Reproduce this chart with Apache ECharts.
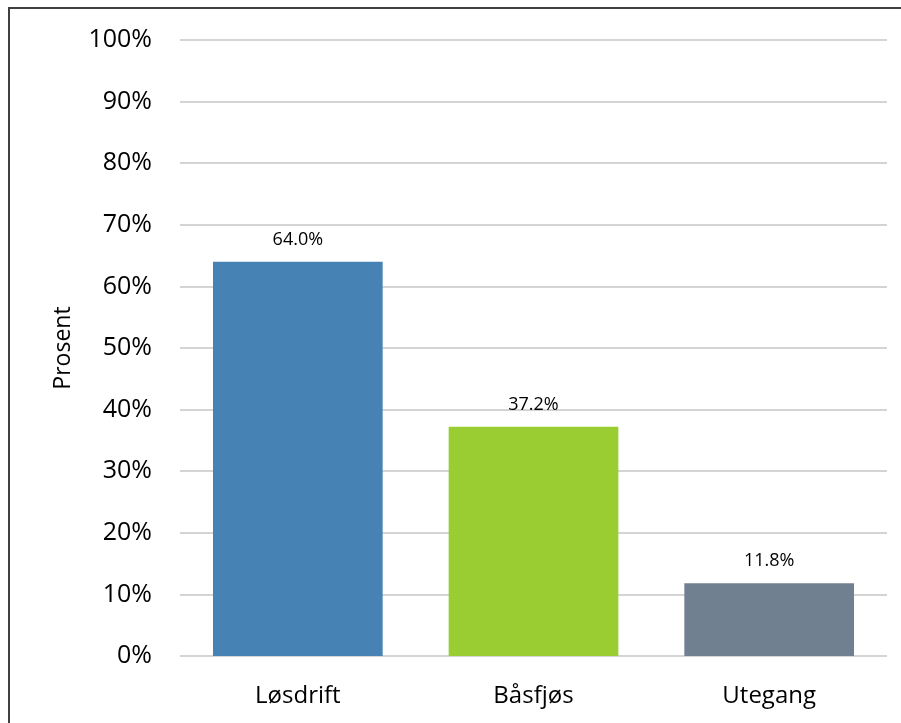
<!DOCTYPE html>
<html>
<head>
<meta charset="utf-8">
<script src="https://cdn.jsdelivr.net/npm/echarts@6/dist/echarts.min.js"></script>
<style>
  html, body { margin: 0; padding: 0; background: #fff; }
  #frame { position: absolute; left: 8px; top: 7px; width: 900px; height: 720px;
           border-top: 2px solid #404040; border-left: 2px solid #404040; }
  #chart { position: absolute; left: 0; top: 0; width: 901px; height: 723px; }
</style>
</head>
<body>
<div id="frame"></div>
<div id="chart"></div>
<script>
var categories = ['Løsdrift', 'Båsfjøs', 'Utegang'];
var values = [64.0, 37.2, 11.8];
var barColors = ['#4682B4', '#9ACD32', '#708090'];

var font = '"Open Sans", sans-serif';
var chart = echarts.init(document.getElementById('chart'));
chart.setOption({
    animation: false,
    grid: { left: 180, right: 14, top: 40, bottom: 67 },
    xAxis: {
        type: 'category',
        data: categories,
        axisLine: { show: false },
        axisTick: { show: false },
        axisLabel: { color: '#000', fontSize: 24, fontFamily: font, margin: 28 }
    },
    yAxis: {
        type: 'value',
        min: 0, max: 100, interval: 10,
        name: 'Prosent',
        nameLocation: 'middle',
        nameGap: 105,
        nameRotate: 90,
        nameTextStyle: { color: '#000', fontSize: 23, fontFamily: font },
        axisLabel: { color: '#000', fontSize: 25, fontFamily: font, margin: 28, formatter: '{value}%' },
        splitLine: { lineStyle: { color: '#d4d4d4', width: 2 } }
    },
    series: [{
        type: 'bar',
        barCategoryGap: '28%',
        data: values.map(function (v, i) {
            return { value: v, itemStyle: { color: barColors[i] } };
        }),
        label: {
            show: true,
            position: 'top',
            distance: 13,
            color: '#000',
            fontSize: 18,
            fontFamily: font,
            formatter: function (p) { return p.value.toFixed(1) + '%'; }
        }
    }]
});
</script>
</body>
</html>
